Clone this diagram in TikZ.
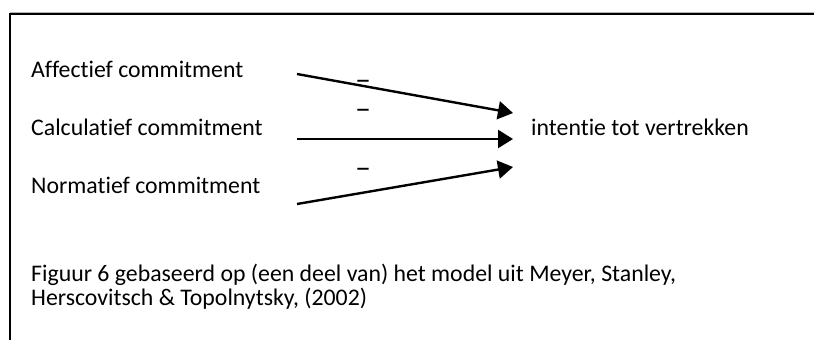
\documentclass[tikz,border=0pt]{standalone}
\usepackage{fontspec}
\setmainfont[Ligatures=NoCommon]{Carlito}
\usetikzlibrary{arrows.meta}
% a bold dash, widened and centred on its node's reference point
\newcommand{\minussign}{\smash{\raisebox{-7pt}{\scalebox{1.6}[1.1]{\bfseries –}}}}
\begin{document}
\begin{tikzpicture}[x=1pt,y=-1pt,
  lbl/.style={anchor=base west,inner sep=0pt,font=\fontsize{23.8}{28}\selectfont},
  sign/.style={anchor=center,inner sep=0pt,font=\fontsize{20}{20}\selectfont},
  arr/.style={line width=2.4pt,-{Triangle[length=15pt,width=18pt]}},
  frame/.style={line width=2pt}]
\useasboundingbox (0,0) rectangle (814,340);
% frame
\draw[gray!60,line width=1pt] (10,12.5) -- (814,12.5);
\draw[frame] (9,14) -- (814,14);
\draw[frame] (10,13) -- (10,340);
% labels
\node[lbl] (aff) at (31,77) {Affectief commitment};
\node[lbl] (calc) at (31,135) {Calculatief commitment};
\node[lbl] (norm) at (31,193) {Normatief commitment};
\node[lbl] (goal) at (531,135) {intentie tot vertrekken};
% arrow ends
\coordinate (s1) at (297,74);
\coordinate (e1) at (513,113);
\coordinate (s2) at (297,139);
\coordinate (e2) at (513,139);
\coordinate (s3) at (297,204);
\coordinate (e3) at (513,167);
\draw[arr] (s1) -- (e1);
\draw[arr] (s2) -- (e2);
\draw[arr] (s3) -- (e3);
% signs
\node[sign] (m1) at (363,80) {\minussign};
\node[sign] (m2) at (363,109.5) {\minussign};
\node[sign] (m3) at (363,168) {\minussign};
% caption
\node[lbl] (cap1) at (31,281) {Figuur 6 gebaseerd op (een deel van) het model uit Meyer, Stanley,};
\node[lbl] (cap2) at (31,305) {Herscovitsch \& Topolnytsky, (2002)};
\end{tikzpicture}
\end{document}
